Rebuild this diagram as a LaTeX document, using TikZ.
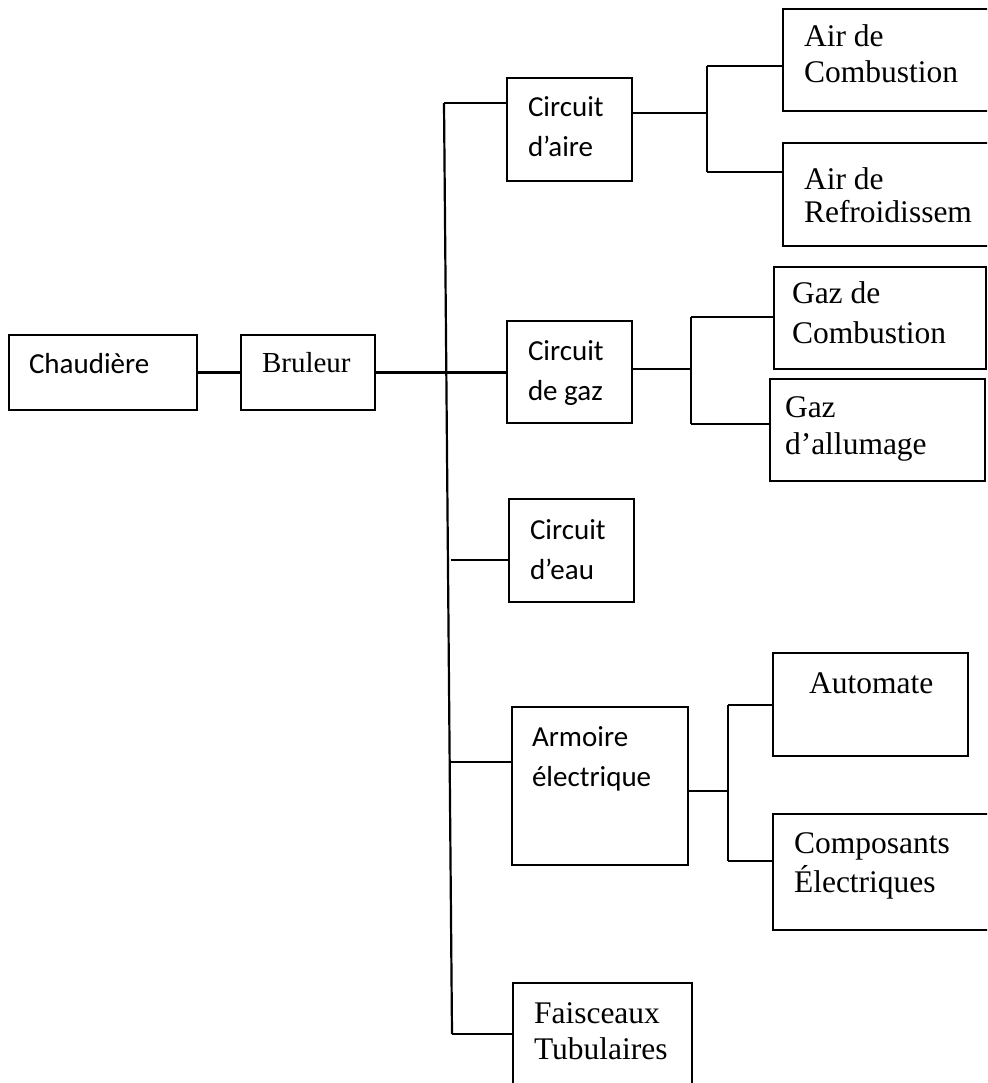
\documentclass[tikz,border=0pt]{standalone}
\usepackage{fontspec}
\newfontfamily\calibrifont{Carlito}
\newfontfamily\timesfont{Liberation Serif}
\usetikzlibrary{calc}
\begin{document}
\begin{tikzpicture}[x=1pt,y=-1pt,
  box/.style={rectangle, draw=black, line width=1.4pt, inner sep=0pt, outer sep=0pt, anchor=north west},
  link/.style={draw=black, line width=2.2pt},
  txt/.style={anchor=north west, inner sep=0pt, outer sep=0pt, align=left},
  calibri/.style={font={\calibrifont\fontsize{29}{40}\selectfont}},
  romain/.style={font={\timesfont\fontsize{31.5}{#1}\selectfont}},
]
\useasboundingbox (0,0) rectangle (987,1083);
\clip (0,0) rectangle (987,1083);

% ---- boxes ----
\node[box, minimum width=188pt, minimum height=75pt]  (chau) at (9,335) {};
\node[box, minimum width=134pt, minimum height=75pt]  (brul) at (241,335) {};
\node[box, minimum width=125pt, minimum height=103pt] (cda)  at (507,78) {};
\node[box, minimum width=125pt, minimum height=102pt] (cdg)  at (507,321) {};
\node[box, minimum width=125pt, minimum height=103pt] (cde)  at (509,499) {};
\node[box, minimum width=176pt, minimum height=158pt] (arm)  at (512,707) {};
\node[box, minimum width=179pt, minimum height=130pt] (fai)  at (513,983) {};
\node[box, minimum width=230pt, minimum height=102pt] (airc) at (783,9) {};
\node[box, minimum width=230pt, minimum height=103pt] (airr) at (783,143) {};
\node[box, minimum width=212pt, minimum height=102pt] (gazc) at (774,267) {};
\node[box, minimum width=215pt, minimum height=102pt] (gaza) at (770,379) {};
\node[box, minimum width=195pt, minimum height=103pt] (auto) at (773,653) {};
\node[box, minimum width=230pt, minimum height=116pt] (comp) at (773,814) {};

% ---- labels ----
\node[txt, calibri] (chau-t) at ($(chau.north west)+(20,10)$) {\strut Chaudière};
\node[txt, font={\timesfont\fontsize{29}{36}\selectfont}] (brul-t) at ($(brul.north west)+(21,11.8)$) {\strut Bruleur};
\node[txt, calibri] (cda-t) at ($(cda.north west)+(21,11)$) {\strut Circuit\\\strut d’aire};
\node[txt, calibri] (cdg-t) at ($(cdg.north west)+(21,11)$) {\strut Circuit\\\strut de gaz};
\node[txt, calibri] (cde-t) at ($(cde.north west)+(21,12)$) {\strut Circuit\\\strut d’eau};
\node[txt, calibri] (arm-t) at ($(arm.north west)+(20,11)$) {\strut Armoire\\\strut électrique};
\node[txt, romain={36}] (fai-t)  at ($(fai.north west)+(21,14.8)$) {\strut Faisceaux\\\strut Tubulaires};
\node[txt, romain={36}] (airc-t) at ($(airc.north west)+(21,12.8)$) {\strut Air de\\\strut Combustion};
\node[txt, romain={30}] (airr-t) at ($(airr.north west)+(21,25)$) {\strut Air de\\\strut Refroidissem};
\node[txt, romain={40}] (gazc-t) at ($(gazc.north west)+(18,8)$) {\strut Gaz de\\\strut Combustion};
\node[txt, romain={37}] (gaza-t) at ($(gaza.north west)+(15,12.1)$) {\strut Gaz\\\strut d’allumage};
\node[txt, romain={36}] (auto-t) at ($(auto.north west)+(36,14.8)$) {\strut Automate};
\node[txt, romain={37}] (comp-t) at ($(comp.north west)+(21,13.1)$) {\strut Composants\\\strut Électriques};

% ---- main trunk ----
\coordinate (tTop) at (444,103);
\coordinate (tBot) at (452,1034);
\coordinate (jE) at (450.5,560);
\coordinate (jA) at (450.9,762);
\draw[link] (chau.east) -- (brul.east -| brul.west);
\draw[link] (tTop) -- (tBot);
\draw[link] (tTop) -- (tTop -| cda.west);
\draw[link] (brul.east) -- (brul.east -| cdg.west);
\draw[link] (jE) -- (jE -| cde.west);
\draw[link] (jA) -- (jA -| arm.west);
\draw[link] (tBot) -- (tBot -| fai.west);

% ---- air branch ----
\coordinate (bAt) at (707,66);
\coordinate (bAm) at (707,113);
\coordinate (bAb) at (707,172);
\draw[link] (bAt) -- (bAb);
\draw[link] (bAm -| cda.east) -- (bAm);
\draw[link] (bAt) -- (bAt -| airc.west);
\draw[link] (bAb) -- (bAb -| airr.west);

% ---- gas branch ----
\coordinate (bGt) at (691,317);
\coordinate (bGm) at (691,369);
\coordinate (bGb) at (691,424);
\draw[link] (bGt) -- (bGb);
\draw[link] (bGm -| cdg.east) -- (bGm);
\draw[link] (bGt) -- (bGt -| gazc.west);
\draw[link] (bGb) -- (bGb -| gaza.west);

% ---- electrical branch ----
\coordinate (bEt) at (728,705);
\coordinate (bEm) at (728,791);
\coordinate (bEb) at (728,861);
\draw[link] (bEt) -- (bEb);
\draw[link] (bEm -| arm.east) -- (bEm);
\draw[link] (bEt) -- (bEt -| auto.west);
\draw[link] (bEb) -- (bEb -| comp.west);
\end{tikzpicture}
\end{document}
